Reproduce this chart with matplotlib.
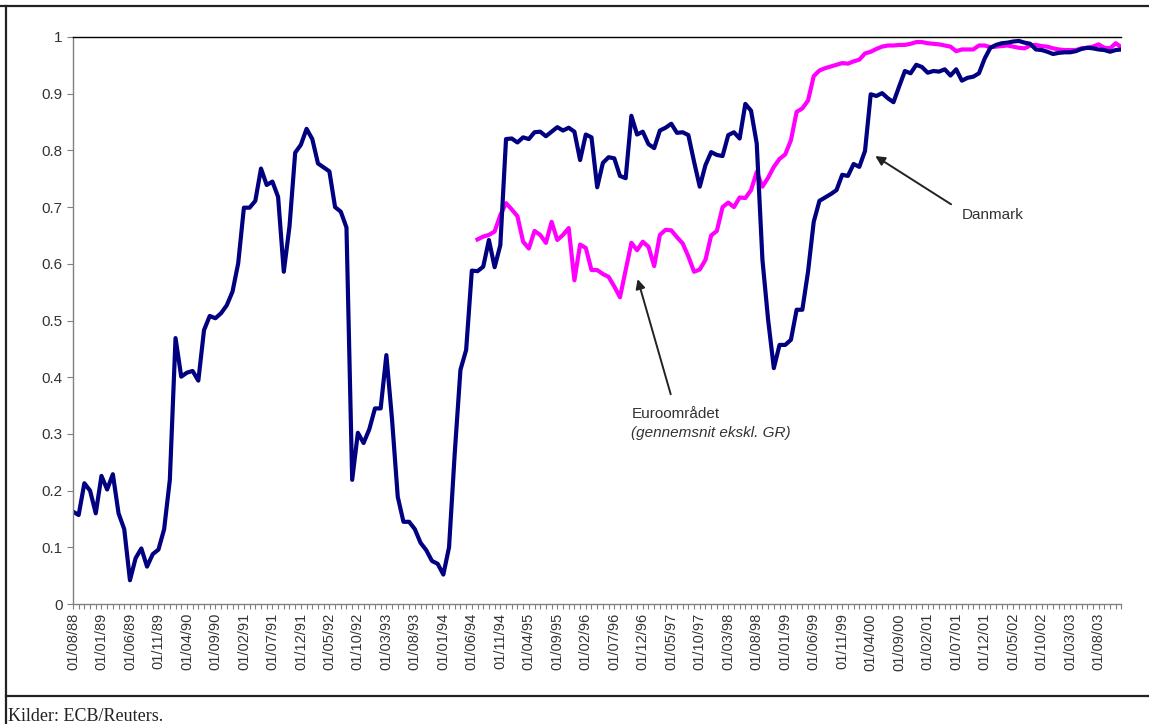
import pandas as pd
import matplotlib.pyplot as plt
from matplotlib.lines import Line2D
from matplotlib.ticker import MultipleLocator, FixedLocator

# month index 0 = 01/08/88, monthly up to 01/12/03
months = pd.date_range("1988-08-01", "2003-12-01", freq="MS")
month_labels = [d.strftime("%d/%m/%y") for d in months]

danmark = [
    0.163, 0.157, 0.213, 0.200, 0.160, 0.226, 0.202, 0.229, 0.160, 0.132,
    0.042, 0.081, 0.098, 0.066, 0.088, 0.096, 0.132, 0.219, 0.469, 0.401,
    0.408, 0.411, 0.394, 0.483, 0.508, 0.504, 0.513, 0.527, 0.551, 0.601,
    0.699, 0.699, 0.711, 0.768, 0.739, 0.745, 0.718, 0.586, 0.666, 0.796,
    0.810, 0.838, 0.820, 0.777, 0.770, 0.763, 0.700, 0.692, 0.664, 0.219,
    0.302, 0.284, 0.308, 0.345, 0.345, 0.439, 0.325, 0.189, 0.145, 0.145,
    0.132, 0.108, 0.095, 0.076, 0.071, 0.052, 0.100, 0.266, 0.413, 0.448,
    0.588, 0.587, 0.595, 0.642, 0.594, 0.633, 0.820, 0.821, 0.814, 0.823,
    0.820, 0.832, 0.833, 0.825, 0.833, 0.841, 0.835, 0.840, 0.833, 0.783,
    0.828, 0.823, 0.735, 0.778, 0.788, 0.786, 0.755, 0.751, 0.861, 0.828,
    0.833, 0.811, 0.804, 0.835, 0.840, 0.847, 0.831, 0.832, 0.827, 0.780,
    0.736, 0.774, 0.797, 0.792, 0.790, 0.827, 0.832, 0.821, 0.882, 0.870,
    0.812, 0.607, 0.501, 0.416, 0.457, 0.457, 0.466, 0.519, 0.519, 0.586,
    0.674, 0.711, 0.717, 0.723, 0.730, 0.757, 0.755, 0.776, 0.771, 0.799,
    0.899, 0.896, 0.901, 0.892, 0.885, 0.913, 0.940, 0.936, 0.951, 0.947,
    0.937, 0.940, 0.939, 0.943, 0.932, 0.943, 0.923, 0.928, 0.930, 0.936,
    0.962, 0.981, 0.986, 0.989, 0.990, 0.992, 0.993, 0.990, 0.988, 0.978,
    0.977, 0.974, 0.970, 0.972, 0.973, 0.973, 0.975, 0.979, 0.981, 0.980,
    0.978, 0.977, 0.974, 0.977, 0.978,
]

# euro area series starts at month index 71 (01/07/94)
euro_start = 71
euro = [
    0.643, 0.648, 0.651, 0.657, 0.686, 0.707, 0.696, 0.684, 0.639, 0.627,
    0.658, 0.651, 0.637, 0.674, 0.642, 0.651, 0.663, 0.571, 0.634, 0.628,
    0.589, 0.589, 0.582, 0.577, 0.560, 0.541, 0.589, 0.637, 0.624, 0.639,
    0.630, 0.596, 0.651, 0.660, 0.659, 0.647, 0.636, 0.613, 0.586, 0.590,
    0.607, 0.650, 0.658, 0.700, 0.708, 0.700, 0.717, 0.716, 0.730, 0.762,
    0.736, 0.752, 0.771, 0.785, 0.793, 0.818, 0.868, 0.874, 0.888, 0.931,
    0.941, 0.945, 0.948, 0.951, 0.954, 0.953, 0.957, 0.960, 0.971, 0.974,
    0.979, 0.983, 0.985, 0.985, 0.986, 0.986, 0.988, 0.991, 0.991, 0.989,
    0.988, 0.987, 0.985, 0.983, 0.975, 0.978, 0.978, 0.978, 0.985, 0.985,
    0.982, 0.983, 0.984, 0.985, 0.983, 0.981, 0.980, 0.985, 0.986, 0.984,
    0.983, 0.980, 0.978, 0.977, 0.977, 0.977, 0.980, 0.981, 0.983, 0.987,
    0.981, 0.980, 0.989, 0.982,
]

yticks = [0, 0.1, 0.2, 0.3, 0.4, 0.5, 0.6, 0.7, 0.8, 0.9, 1]
ytick_labels = ["0", "0.1", "0.2", "0.3", "0.4", "0.5", "0.6", "0.7", "0.8", "0.9", "1"]

plt.rcParams['font.family'] = ['Liberation Sans', 'DejaVu Sans']

fig = plt.figure(figsize=(11.49, 7.24), dpi=100)
ax = fig.add_axes([0.0635, 0.1657, 0.9125, 0.7832])

n = len(danmark)
x_all = list(range(n))
x_euro = list(range(euro_start, euro_start + len(euro)))

ax.plot(x_euro, euro, color='#ff00ff', lw=3.0, solid_joinstyle='round')
ax.plot(x_all, danmark, color='#000080', lw=3.0, solid_joinstyle='round')

ax.set_xlim(0, n - 1)
ax.set_ylim(0, 1)

# category axis: tick every month, label every 5th
ax.xaxis.set_minor_locator(MultipleLocator(1))
ax.xaxis.set_major_locator(FixedLocator(range(0, n, 5)))
ax.set_xticklabels([month_labels[i] for i in range(0, n, 5)], rotation=90,
                   fontsize=10.5, color='#333333')
ax.set_yticks(yticks)
ax.set_yticklabels(ytick_labels, fontsize=11, color='#333333')

ax.tick_params(axis='x', which='both', direction='out', length=3.5,
               width=0.8, color='#808080', pad=3)
ax.tick_params(axis='y', which='major', direction='out', length=4,
               width=0.8, color='#808080', pad=3.5)

for side in ['left', 'bottom']:
    ax.spines[side].set_color('#808080')
    ax.spines[side].set_linewidth(1.0)
ax.spines['right'].set_visible(False)
ax.spines['top'].set_color('black')
ax.spines['top'].set_linewidth(1.0)

# Annotations
arrow = dict(arrowstyle='-|>', color='#222222', lw=1.4, mutation_scale=14,
             shrinkA=0, shrinkB=0)
ax.annotate('', xy=(140.8, 0.790), xytext=(154.1, 0.705), arrowprops=arrow)
ax.text(156.0, 0.686, 'Danmark', fontsize=11, color='#333333',
        ha='left', va='center')

ax.annotate('', xy=(99.1, 0.573), xytext=(104.9, 0.370), arrowprops=arrow)
ax.text(98.0, 0.335, 'Euroområdet', fontsize=11, color='#333333',
        ha='left', va='center')
ax.text(98.0, 0.302, '(gennemsnit ekskl. GR)', fontsize=11, color='#333333',
        ha='left', va='center', style='italic')

# Outer frame and source line
fig.add_artist(Line2D([0, 1], [1 - 5.5 / 724, 1 - 5.5 / 724],
                      transform=fig.transFigure, color='#222222', lw=1.6))
fig.add_artist(Line2D([5.5 / 1149, 5.5 / 1149], [0, 1 - 5.5 / 724],
                      transform=fig.transFigure, color='#222222', lw=1.6))
fig.add_artist(Line2D([5.5 / 1149, 1], [1 - 696 / 724, 1 - 696 / 724],
                      transform=fig.transFigure, color='#222222', lw=1.6))
fig.text(8 / 1149, 1 - 721 / 724, 'Kilder: ECB/Reuters.', fontsize=13,
         family='Liberation Serif', color='#222222', ha='left', va='baseline')

fig.savefig('out.png', dpi=100)
